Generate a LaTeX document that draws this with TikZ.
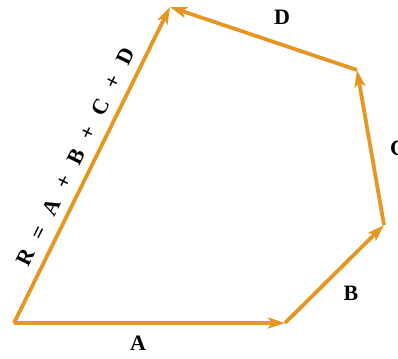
\documentclass[tikz,border=0pt]{standalone}
\usepackage{fontspec}
\setmainfont{Liberation Serif}
\usetikzlibrary{arrows.meta}
\definecolor{vecorange}{RGB}{230,150,35}
\tikzset{
  vec/.style={draw=vecorange, line width=3.8pt, -{Stealth[length=17pt,width=11pt,inset=4pt]}},
  lbl/.style={font=\bfseries\fontsize{22}{24}\selectfont, text=black, inner sep=0pt}
}
\begin{document}
\begin{tikzpicture}[x=1pt,y=-1pt]
\useasboundingbox (0,0) rectangle (398,358);
\coordinate (O) at (14,323);
\coordinate (P1) at (285,323);
\coordinate (P2) at (384,225);
\coordinate (P3) at (357,70);
\coordinate (P4) at (170,7);
\draw[vec] (O) -- (P1);
\draw[vec] (P1) -- (P2);
\draw[vec] (P2) -- (P3);
\draw[vec] (P3) -- (P4);
\draw[vec] (O) -- (P4);
\node[lbl] (la) at (138,343) {A};
\node[lbl] (lb) at (351,293) {B};
\node[lbl] (lc) at (398,148) {C};
\node[lbl] (ld) at (282,17) {D};
\node[lbl, rotate=63.6] (lr) at (76,157) {R\hspace{14pt}=\hspace{14pt}A\hspace{14pt}+\hspace{14pt}B\hspace{14pt}+\hspace{14pt}C\hspace{14pt}+\hspace{14pt}D};
\end{tikzpicture}
\end{document}
